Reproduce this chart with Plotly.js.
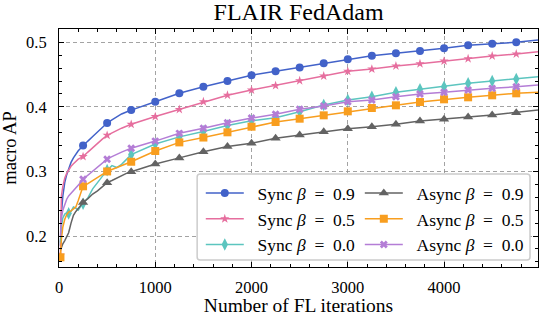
<!DOCTYPE html>
<html>
<head>
<meta charset="utf-8">
<script src="https://cdn.plot.ly/plotly-3.0.1.min.js"></script>
<style>html,body{margin:0;padding:0;background:#fff;}#chart{width:540px;height:316px;}</style>
</head>
<body>
<div id="chart"></div>
<script>
// ---- data ----
const iterations = [15,25,40,60,80,100,125,150,175,200,225,250,300,350,400,450,500,550,600,650,700,750,
  1000,1250,1500,1750,2000,2250,2500,2750,3000,3250,3500,3750,4000,4250,4500,4750,4976];

const syncB09 = [0.185,0.235,0.262,0.283,0.295,0.305,0.314,0.321,0.327,0.332,0.336,0.340,0.347,0.354,0.361,0.368,0.375,0.380,0.385,0.389,0.392,0.395,
  0.408,0.421,0.431,0.440,0.449,0.455,0.461,0.4675,0.4737,0.479,0.483,0.4865,0.4907,0.4953,0.4978,0.500,0.5035];
const syncB05 = [0.170,0.262,0.277,0.290,0.297,0.302,0.308,0.312,0.316,0.319,0.321,0.323,0.330,0.337,0.344,0.350,0.356,0.360,0.364,0.367,0.370,0.373,
  0.385,0.396,0.408,0.418,0.426,0.433,0.4405,0.4478,0.455,0.4586,0.4633,0.4668,0.471,0.4746,0.4788,0.4819,0.4854];
const syncB00 = [0.190,0.215,0.228,0.234,0.236,0.235,0.238,0.245,0.243,0.240,0.246,0.250,0.259,0.273,0.283,0.292,0.302,0.309,0.306,0.311,0.318,0.326,
  0.3425,0.3535,0.362,0.371,0.3786,0.3832,0.3925,0.4029,0.4106,0.4157,0.4225,0.4272,0.4312,0.4364,0.440,0.443,0.4467];
const asyncB09 = [0.178,0.183,0.188,0.193,0.198,0.205,0.220,0.232,0.238,0.243,0.247,0.252,0.258,0.265,0.270,0.276,0.2826,0.286,0.290,0.294,0.297,0.2996,
  0.3115,0.321,0.3306,0.3385,0.3436,0.3513,0.3564,0.3615,0.3662,0.3693,0.373,0.3781,0.3807,0.3843,0.3874,0.391,0.3951];
const asyncB05 = [0.167,0.195,0.214,0.226,0.233,0.237,0.239,0.242,0.245,0.255,0.265,0.277,0.281,0.286,0.291,0.296,0.300,0.303,0.306,0.309,0.312,0.315,
  0.3316,0.345,0.3525,0.3606,0.3693,0.3766,0.3817,0.3869,0.3931,0.3982,0.4024,0.4075,0.4117,0.4148,0.4179,0.421,0.4225];
const asyncB00 = [0.200,0.228,0.240,0.250,0.257,0.262,0.266,0.270,0.274,0.278,0.283,0.288,0.294,0.300,0.306,0.312,0.319,0.323,0.327,0.330,0.333,0.336,
  0.347,0.359,0.3668,0.3755,0.3827,0.3885,0.3962,0.4013,0.408,0.4106,0.4157,0.4199,0.4225,0.4261,0.4287,0.4312,0.4339];

// iterations that carry a marker
const markIters = [250,500,750,1000,1250,1500,1750,2000,2250,2500,2750,3000,3250,3500,3750,4000,4250,4500,4750];
const extraMarks05 = [15];
const extraMarks00 = [100];

const xTicks = [0,1000,2000,3000,4000];
const yTicks = [0.2,0.3,0.4,0.5];
const yTickText = ['0.2','0.3','0.4','0.5'];

const seriesNames = ['\u2002Sync <i>β</i>\u2002=\u20020.9','\u2002Sync <i>β</i>\u2002=\u20020.5','\u2002Sync <i>β</i>\u2002=\u20020.0',
                     '\u2002Async <i>β</i>\u2002=\u20020.9','\u2002Async <i>β</i>\u2002=\u20020.5','\u2002Async <i>β</i>\u2002=\u20020.0'];

// ---- styles ----
const SERIF = "'Liberation Serif', 'Times New Roman', serif";
const styles = [
  {data: syncB09,  color:'#4262c9', symbol:'circle',       size:8,  extra:[],           legend:'legend'},
  {data: syncB05,  color:'#e66e9e', symbol:'star',         size:7,  extra:extraMarks05, legend:'legend'},
  {data: syncB00,  color:'#5cc5bf', symbol:'diamond-tall', size:9,  extra:extraMarks00, legend:'legend'},
  {data: asyncB09, color:'#636363', symbol:'triangle-up',  size:9,  extra:[],           legend:'legend2'},
  {data: asyncB05, color:'#f89e1f', symbol:'square',       size:8,  extra:extraMarks05, legend:'legend2'},
  {data: asyncB00, color:'#b47dd6', symbol:'x',            size:7,  extra:[],           legend:'legend2'}
];

const traces = [];
styles.forEach((s, i) => {
  traces.push({x: iterations, y: s.data, type:'scatter', mode:'lines',
    line:{color:s.color, width:1.5}, showlegend:false, hoverinfo:'skip', cliponaxis:true});
  const mset = s.extra.concat(markIters);
  const mx = [], my = [];
  iterations.forEach((it, k) => { if (mset.indexOf(it) >= 0) { mx.push(it); my.push(s.data[k]); } });
  traces.push({x: mx, y: my, type:'scatter', mode:'markers',
    marker:{color:s.color, symbol:s.symbol, size:s.size, line:{width:0}}, showlegend:false, cliponaxis:true});
});
styles.forEach((s, i) => {
  traces.push({x:[null], y:[null], type:'scatter', mode:'lines+markers', name: seriesNames[i],
    line:{color:s.color, width:1.5}, marker:{color:s.color, symbol:s.symbol, size:s.size},
    legend: s.legend, showlegend:true});
});

const axisCommon = {
  showline:true, linecolor:'#000', linewidth:1, mirror:'ticks',
  ticks:'inside', ticklen:5, tickwidth:1, tickcolor:'#000',
  showgrid:true, gridcolor:'#8c8c8c', gridwidth:0.8, griddash:'4px,3px',
  zeroline:false, tickfont:{family:SERIF, size:16.5, color:'#000'}
};

// legend frame with rounded corners (paper coordinates)
const bx0 = 0.2884, bx1 = 0.9833, by0 = 0.0294, by1 = 0.3908, rx = 0.0063, ry = 0.0126;
const framePath = `M${bx0+rx},${by1} L${bx1-rx},${by1} Q${bx1},${by1} ${bx1},${by1-ry} L${bx1},${by0+ry} Q${bx1},${by0} ${bx1-rx},${by0} ` +
  `L${bx0+rx},${by0} Q${bx0},${by0} ${bx0},${by0+ry} L${bx0},${by1-ry} Q${bx0},${by1} ${bx0+rx},${by1} Z`;

const layout = {
  width:540, height:316,
  margin:{l:59, r:2, t:29, b:49},
  paper_bgcolor:'#fff', plot_bgcolor:'#fff',
  font:{family:SERIF, color:'#000'},
  title:{text:'FLAIR FedAdam', font:{family:SERIF, size:24, color:'#000'}, x:0.553, xanchor:'center', y:0.962, yanchor:'middle'},
  xaxis: Object.assign({}, axisCommon, {
    range:[0,4976], tickvals:xTicks, ticktext:xTicks.map(String),
    minor:{dtick:200, tick0:0, ticks:'inside', ticklen:3, tickcolor:'#000', showgrid:false},
    title:{text:'Number of FL iterations', font:{family:SERIF, size:19.5, color:'#000'}, standoff:3},
    ticklabelstandoff:5
  }),
  yaxis: Object.assign({}, axisCommon, {
    range:[0.152,0.5206], tickvals:yTicks, ticktext:yTickText,
    minor:{dtick:0.02, tick0:0, ticks:'inside', ticklen:3, tickcolor:'#000', showgrid:false},
    title:{text:'macro AP', font:{family:SERIF, size:18.5, color:'#000'}, standoff:5},
    ticklabelstandoff:8
  }),
  shapes:[{type:'path', xref:'paper', yref:'paper', path: framePath,
    fillcolor:'#fff', line:{color:'#cccccc', width:1.5}, layer:'above'}],
  legend:{x:0.296, y:0.386, xanchor:'left', yanchor:'top', bgcolor:'rgba(0,0,0,0)', borderwidth:0,
    font:{family:SERIF, size:17.5, color:'#000'}, itemwidth:38, tracegroupgap:0},
  legend2:{x:0.628, y:0.386, xanchor:'left', yanchor:'top', bgcolor:'rgba(0,0,0,0)', borderwidth:0,
    font:{family:SERIF, size:17.5, color:'#000'}, itemwidth:38, tracegroupgap:0}
};

Plotly.newPlot('chart', traces, layout, {displayModeBar:false, staticPlot:true});
</script>
</body>
</html>
